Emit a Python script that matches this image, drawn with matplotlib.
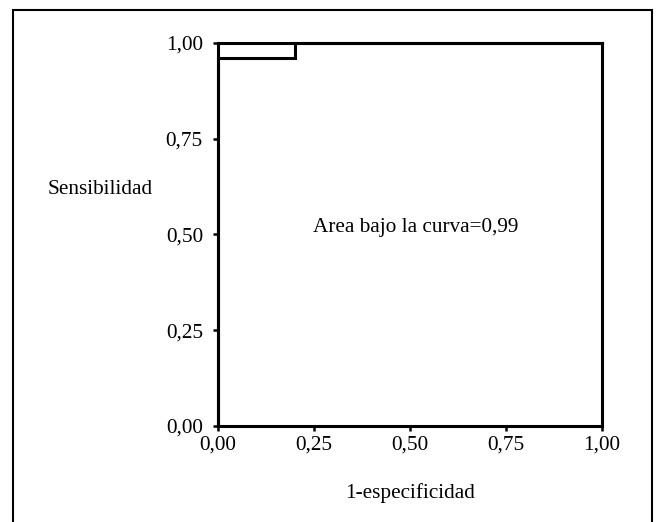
import matplotlib.pyplot as plt
from matplotlib.patches import Rectangle

# ROC curve points (1-specificity, sensitivity)
fpr = [0.0, 0.0, 0.2, 0.2, 1.0]
tpr = [0.0, 0.96, 0.96, 1.0, 1.0]
ticks = [0.0, 0.25, 0.5, 0.75, 1.0]
tick_labels = ["0,00", "0,25", "0,50", "0,75", "1,00"]
auc_text = "Area bajo la curva=0,99"

plt.rcParams['font.family'] = ['Liberation Serif', 'DejaVu Serif']
fs = 15.3

fig = plt.figure(figsize=(6.56, 5.22), dpi=100)
ax = fig.add_axes([218 / 656, 1 - 426 / 522, 384 / 656, 383.3 / 522])

ax.plot(fpr, tpr, color="black", linewidth=2.2, solid_joinstyle="miter", clip_on=False)
ax.set_xlim(0, 1)
ax.set_ylim(0, 1)
ax.set_xticks(ticks)
ax.set_xticklabels(tick_labels)
ax.set_yticks(ticks)
ax.set_yticklabels(tick_labels)
ax.tick_params(direction="out", length=3.8, width=1.8, labelsize=fs, colors="black")
ax.tick_params(axis="x", pad=3)
ax.tick_params(axis="y", pad=7)
for s in ax.spines.values():
    s.set_linewidth(2.2)

ax.text(0.247, 0.517, auc_text, fontsize=fs, va="center", ha="left")
fig.text(48 / 656, 1 - 190 / 522, "Sensibilidad", fontsize=fs, ha="left", va="center")
fig.text(410 / 656, 1 - 493 / 522, "1-especificidad", fontsize=fs, ha="center", va="center")

# outer frame around the whole chart
fig.patches.append(Rectangle((13 / 656, -0.05), 639 / 656, 1.05 - 10 / 522,
                             transform=fig.transFigure, fill=False,
                             edgecolor="black", linewidth=1.5))

fig.savefig("out.png", dpi=100)
